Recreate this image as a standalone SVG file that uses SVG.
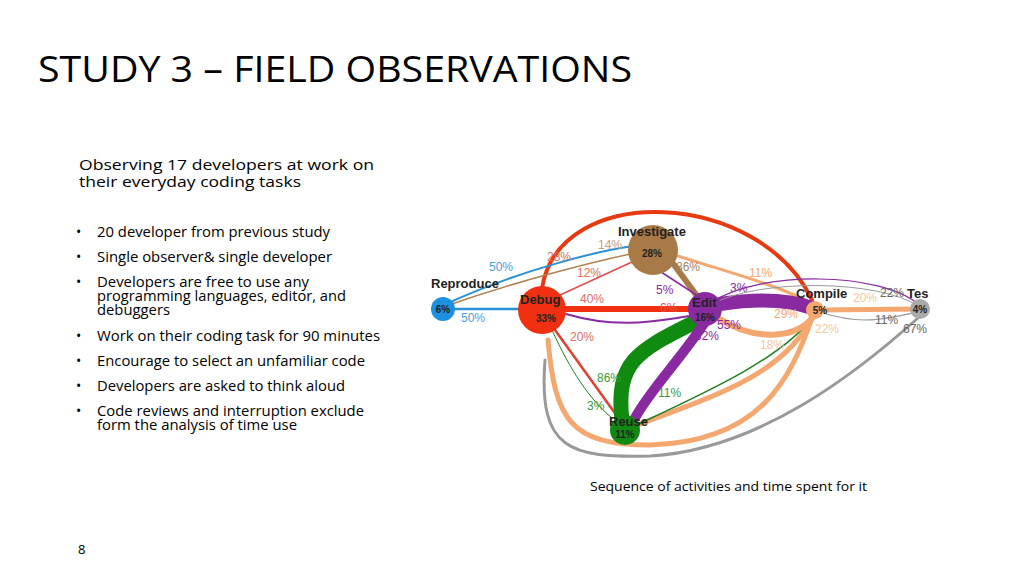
<svg xmlns="http://www.w3.org/2000/svg" width="1024" height="576" viewBox="0 0 1024 576">
<style>
.t{font-family:"Open Sans","Liberation Sans",sans-serif;fill:#000}
.n{font-family:"Liberation Sans",Arial,sans-serif;font-weight:bold;fill:#222}
.p{font-family:"Liberation Sans",Arial,sans-serif;font-size:12px}
.e{fill:none;stroke-linecap:round}
</style>
<rect width="1024" height="576" fill="#fff"/>
<text class="t" x="38" y="82" font-size="36" textLength="594" lengthAdjust="spacingAndGlyphs">STUDY 3 – FIELD OBSERVATIONS</text>
<text class="t" x="79" y="170" font-size="15" textLength="295" lengthAdjust="spacingAndGlyphs">Observing 17 developers at work on</text>
<text class="t" x="79" y="187" font-size="15" textLength="222" lengthAdjust="spacingAndGlyphs">their everyday coding tasks</text>
<g font-size="14" class="t">
<text x="76" y="237">•</text><text x="97" y="237" textLength="233" lengthAdjust="spacingAndGlyphs">20 developer from previous study</text>
<text x="76" y="262">•</text><text x="97" y="262" textLength="235" lengthAdjust="spacingAndGlyphs">Single observer&amp; single developer</text>
<text x="76" y="287">•</text><text x="97" y="287" textLength="212" lengthAdjust="spacingAndGlyphs">Developers are free to use any</text>
<text x="97" y="301" textLength="249" lengthAdjust="spacingAndGlyphs">programming languages, editor, and</text>
<text x="97" y="315" textLength="73" lengthAdjust="spacingAndGlyphs">debuggers</text>
<text x="76" y="341">•</text><text x="97" y="341" textLength="283" lengthAdjust="spacingAndGlyphs">Work on their coding task for 90 minutes</text>
<text x="76" y="366">•</text><text x="97" y="366" textLength="268" lengthAdjust="spacingAndGlyphs">Encourage to select an unfamiliar code</text>
<text x="76" y="391">•</text><text x="97" y="391" textLength="248" lengthAdjust="spacingAndGlyphs">Developers are asked to think aloud</text>
<text x="76" y="416">•</text><text x="97" y="416" textLength="267" lengthAdjust="spacingAndGlyphs">Code reviews and interruption exclude</text>
<text x="97" y="430" textLength="200" lengthAdjust="spacingAndGlyphs">form the analysis of time use</text>
</g>
<text class="t" x="590" y="491" font-size="13" textLength="277" lengthAdjust="spacingAndGlyphs">Sequence of activities and time spent for it</text>
<text class="t" x="78" y="554" font-size="13">8</text>
<g id="connectors">
<path class="e" d="M545 360 C538 450 570 458 650 456 C760 450 860 370 918 318" stroke="#999" stroke-width="3"/>
<path class="e" d="M548 340 C555 420 570 445 650 445 C760 442 790 380 812 318" stroke="#f4a870" stroke-width="5"/>
<path class="e" d="M630 428 C700 400 780 380 812 318" stroke="#f4a870" stroke-width="5"/>
<path class="e" d="M630 428 C700 395 780 360 812 318" stroke="#208020" stroke-width="1.5"/>
<path class="e" d="M542 288 C560 180 760 190 812 300" stroke="#e83a10" stroke-width="4"/>
<path class="e" d="M446 304 C520 270 600 250 640 245" stroke="#2a90d8" stroke-width="2"/>
<path class="e" d="M446 306 C520 280 600 260 640 252" stroke="#b08050" stroke-width="1.5"/>
<path class="e" d="M455 309 L520 309" stroke="#2a90d8" stroke-width="2.5"/>
<path class="e" d="M560 295 L632 262" stroke="#e04a4a" stroke-width="1.5"/>
<path class="e" d="M566 309 L690 309" stroke="#f03010" stroke-width="6"/>
<path class="e" d="M566 314 C620 330 660 320 690 316" stroke="#8a2aa0" stroke-width="2"/>
<path class="e" d="M555 330 L617 416" stroke="#e04030" stroke-width="2.5"/>
<path class="e" d="M552 330 C570 370 590 400 612 418" stroke="#208020" stroke-width="1"/>
<path class="e" d="M672 262 L700 300" stroke="#a87a48" stroke-width="6"/>
<path class="e" d="M655 268 L698 296" stroke="#8a2aa0" stroke-width="1.5"/>
<path class="e" d="M675 255 C720 270 780 285 812 304" stroke="#f4a870" stroke-width="3"/>
<path class="e" d="M720 304 C760 298 790 300 812 308" stroke="#8a2aa0" stroke-width="14"/>
<path class="e" d="M718 318 C760 345 800 335 812 318" stroke="#f4a870" stroke-width="6"/>
<path class="e" d="M712 302 C760 270 880 272 918 304" stroke="#8a2aa0" stroke-width="1.2"/>
<path class="e" d="M712 304 C760 278 880 280 918 306" stroke="#999" stroke-width="1"/>
<path class="e" d="M820 310 L918 309" stroke="#f4a870" stroke-width="5"/>
<path class="e" d="M820 312 C860 325 880 320 918 312" stroke="#999" stroke-width="1.2"/>
<path class="e" d="M695 322 C640 350 615 360 622 420" stroke="#108a10" stroke-width="15"/>
<path class="e" d="M705 322 C680 360 650 390 635 418" stroke="#8a2aa0" stroke-width="10"/>
</g>
<g id="reproduce"><circle cx="443" cy="309" r="12" fill="#1e90e0"/><text class="n" x="431" y="288" font-size="13">Reproduce</text><text class="n" x="443" y="313" font-size="10" text-anchor="middle">6%</text></g>
<g id="debug"><circle cx="542" cy="310" r="24" fill="#f03010"/><text class="n" x="520" y="304" font-size="13">Debug</text><text class="n" x="546" y="322" font-size="10" text-anchor="middle">33%</text></g>
<g id="investigate"><circle cx="653" cy="250" r="25" fill="#a87a48"/><text class="n" x="618" y="236" font-size="13">Investigate</text><text class="n" x="652" y="257" font-size="10" text-anchor="middle">28%</text></g>
<g id="edit"><circle cx="705" cy="309" r="17" fill="#8a2aa0"/><text class="n" x="692" y="307" font-size="13">Edit</text><text class="n" x="705" y="321" font-size="10" text-anchor="middle">16%</text></g>
<g id="compile"><circle cx="815" cy="310" r="9" fill="#f4a870"/><text class="n" x="796" y="298" font-size="13">Compile</text><text class="n" x="820" y="314" font-size="10" text-anchor="middle">5%</text></g>
<g id="test"><circle cx="920" cy="309" r="10" fill="#aaa"/><text class="n" x="907" y="298" font-size="13">Tes</text><text class="n" x="920" y="313" font-size="10" text-anchor="middle">4%</text></g>
<g id="reuse"><circle cx="625" cy="430" r="15" fill="#108a10"/><text class="n" x="609" y="426" font-size="13">Reuse</text><text class="n" x="625" y="438" font-size="10" text-anchor="middle">11%</text></g>
<g id="labels" class="p">
<text x="489" y="271" fill="#4aa0e0">50%</text>
<text x="461" y="322" fill="#4aa0e0">50%</text>
<text x="547" y="261" fill="#e07060">28%</text>
<text x="598" y="249" fill="#c0a080">14%</text>
<text x="577" y="277" fill="#e07060">12%</text>
<text x="580" y="303" fill="#e07060">40%</text>
<text x="570" y="341" fill="#e07060">20%</text>
<text x="676" y="271" fill="#a88060">86%</text>
<text x="656" y="294" fill="#8a2aa0">5%</text>
<text x="660" y="312" fill="#e05040">6%</text>
<text x="730" y="292" fill="#8a2aa0">3%</text>
<text x="749" y="277" fill="#f4a870">11%</text>
<text x="717" y="329" fill="#8a2aa0">55%</text>
<text x="695" y="340" fill="#8a2aa0">32%</text>
<text x="774" y="318" fill="#f4a870">29%</text>
<text x="760" y="349" fill="#f4c8a0">18%</text>
<text x="815" y="333" fill="#f4c8a0">22%</text>
<text x="853" y="302" fill="#f4c8a0">20%</text>
<text x="880" y="297" fill="#666">22%</text>
<text x="875" y="324" fill="#666">11%</text>
<text x="903" y="333" fill="#666">67%</text>
<text x="597" y="382" fill="#3a9a3a">86%</text>
<text x="658" y="397" fill="#3a9a3a">11%</text>
<text x="587" y="410" fill="#3a9a3a">3%</text>
</g>
</svg>
